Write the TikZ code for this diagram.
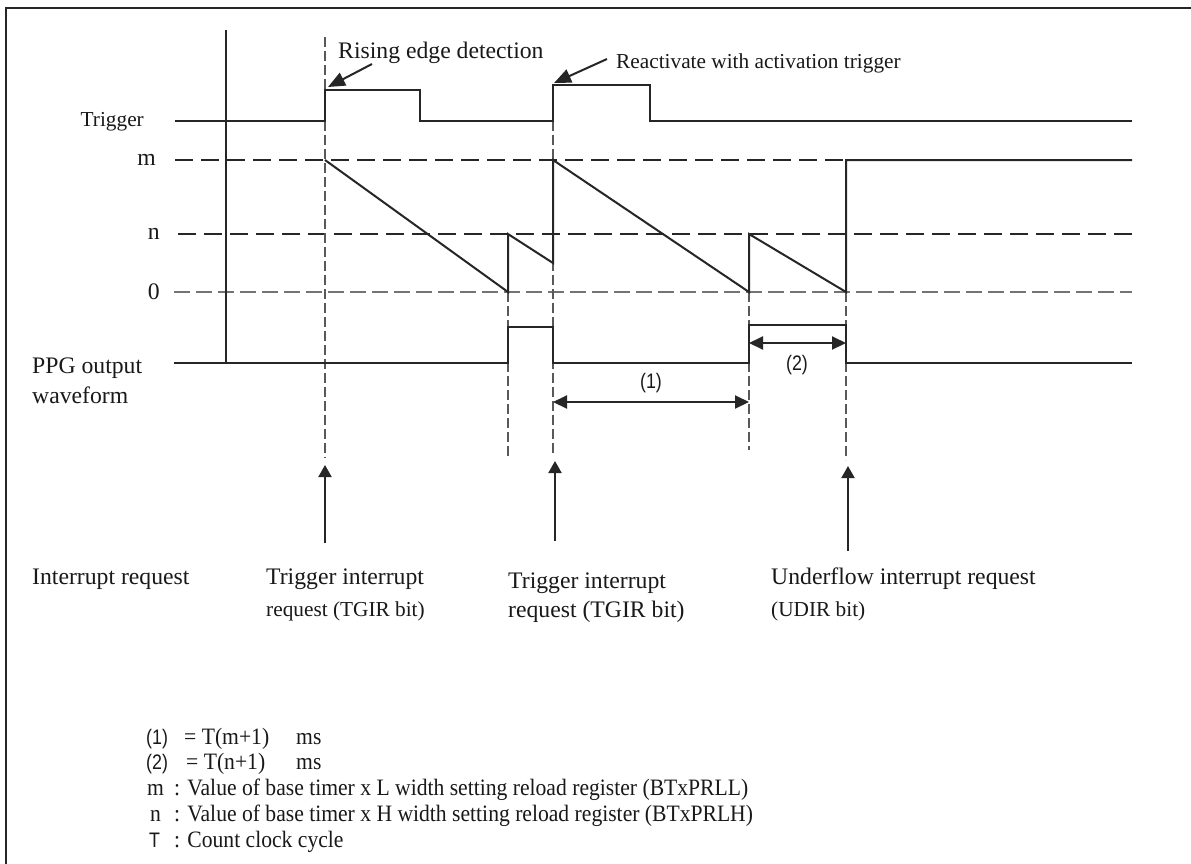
\documentclass[tikz,border=0pt]{standalone}
\usepackage{fontspec}
\setmainfont{Liberation Serif}
\setsansfont{Liberation Sans}
\usetikzlibrary{arrows.meta}
\newcommand{\sqzt}[1]{\scalebox{0.92}[1]{#1}}
\newcommand{\sqzs}[1]{\scalebox{0.85}[1]{#1}}
\begin{document}
\begin{tikzpicture}[x=1pt,y=-1pt,
  sig/.style={line width=2pt, color=black!85, line join=miter},
  thindash/.style={line width=1.1pt, color=black!65, dash pattern=on 10pt off 4pt},
  levdash/.style={line width=2.6pt, color=black!85, dash pattern=on 18pt off 8pt},
  zerodash/.style={line width=1.4pt, color=black!55, dash pattern=on 16pt off 6pt},
  lbl/.style={font=\fontsize{23.7}{28}\selectfont, inner sep=0pt, text=black!90},
  slbl/.style={font=\fontsize{21.3}{25}\selectfont, inner sep=0pt, text=black!90},
  leg/.style={font=\fontsize{23.5}{28}\selectfont, inner sep=0pt, anchor=base west, text=black!90},
  legs/.style={font=\sffamily\fontsize{21}{25}\selectfont, inner sep=0pt, anchor=base west, text=black!90},
  dlbl/.style={font=\sffamily\fontsize{21}{25}\selectfont, inner sep=0pt, text=black!90},
  dim/.style={line width=2pt, color=black!85, {Triangle[length=14pt,width=13pt]}-{Triangle[length=14pt,width=13pt]}},
  irq/.style={line width=2pt, color=black!85, -{Triangle[length=12pt,width=13pt]}},
  callout/.style={line width=2pt, color=black!85, -{Triangle[length=17pt,width=14pt]}},
]
\useasboundingbox (0,0) rectangle (1191,863);
\fill[white] (0,0) rectangle (1191,863);
% frame
\draw[line width=2.2pt, color=black!85] (6,880) -- (6,8) -- (1200,8);

% level lines
\draw[levdash] (175,160) -- (1132,160);
\draw[levdash] (178,234) -- (1132,234);
\draw[zerodash] (174,292) -- (1132,292);

% thin dashed verticals
\draw[thindash] (325,37) -- (325,458);
\draw[thindash] (508,292) -- (508,458);
\draw[thindash] (553,121) -- (553,456);
\draw[thindash] (749,292) -- (749,450);
\draw[thindash] (846,292) -- (846,460);

% axis
\draw[sig] (226,30) -- (226,363);

% trigger
\draw[sig] (175,121) -- (325,121) -- (325,90) -- (420,90) -- (420,121) -- (553,121) -- (553,85) -- (650,85) -- (650,121) -- (1132,121);

% counter
\draw[sig] (325,160) -- (508,292) -- (508,234) -- (553,263) -- (553,160) -- (749,292) -- (749,234) -- (846,292) -- (846,160) -- (1132,160);

% PPG output
\draw[sig] (174,363) -- (508,363) -- (508,327) -- (553,327) -- (553,363) -- (749,363) -- (749,325) -- (846,325) -- (846,363) -- (1132,363);

% labels left
\node[slbl, anchor=east] (trg) at (144,122) {Trigger};
\node[lbl, anchor=east] (lm) at (156,160) {m};
\node[lbl, anchor=east] (ln) at (160,234) {n};
\node[lbl, anchor=east] (l0) at (160,292) {0};
\node[lbl, anchor=base west] (ppg1) at (32,373) {PPG output};
\node[lbl, anchor=base west] (ppg2) at (32,403) {waveform};

% callouts
\node[lbl, anchor=base west] (rise) at (338,58) {Rising edge detection};
\coordinate (rA) at (372,64);
\coordinate (rB) at (328,87);
\draw[callout] (rA) -- (rB);
\node[slbl, anchor=base west] (react) at (616,68) {Reactivate with activation trigger};
\coordinate (aA) at (607,59);
\coordinate (aB) at (554,83);
\draw[callout] (aA) -- (aB);

% dimensions
\coordinate (d1a) at (553,402);
\coordinate (d1b) at (749,402);
\draw[dim] (d1a) -- (d1b);
\node[dlbl] (d1) at (651,383) {\sqzs{(1)}};
\coordinate (d2a) at (749,343);
\coordinate (d2b) at (846,343);
\draw[dim] (d2a) -- (d2b);
\node[dlbl] (d2) at (797,365) {\sqzs{(2)}};

% interrupt arrows
\coordinate (i1a) at (325,543);
\coordinate (i1b) at (325,465);
\draw[irq] (i1a) -- (i1b);
\coordinate (i2a) at (555,541);
\coordinate (i2b) at (555,461);
\draw[irq] (i2a) -- (i2b);
\coordinate (i3a) at (848,551);
\coordinate (i3b) at (848,466);
\draw[irq] (i3a) -- (i3b);

% interrupt labels
\node[lbl, anchor=base west] (ir) at (32,584) {Interrupt request};
\node[lbl, anchor=base west] (t1a) at (266,584) {Trigger interrupt};
\node[slbl, anchor=base west] (t1b) at (266,616) {request (TGIR bit)};
\node[lbl, anchor=base west] (t2a) at (508,588) {Trigger interrupt};
\node[lbl, anchor=base west] (t2b) at (508,617) {request (TGIR bit)};
\node[lbl, anchor=base west] (u1) at (771,584) {Underflow interrupt request};
\node[slbl, anchor=base west] (u2) at (771,616) {(UDIR bit)};

% legend
\node[legs] (g1) at (146,744) {\sqzs{(1)}};
\node[leg] (g1b) at (184,744) {\sqzt{= T(m+1)}};
\node[leg] (g1c) at (296,744) {\sqzt{ms}};
\node[legs] (g2) at (146,769) {\sqzs{(2)}};
\node[leg] (g2b) at (186,769) {\sqzt{= T(n+1)}};
\node[leg] (g2c) at (296,769) {\sqzt{ms}};
\node[leg] (g3) at (147,795) {\sqzt{m}};
\node[leg] (g3b) at (174,795) {\sqzt{: Value of base timer x L width setting reload register (BTxPRLL)}};
\node[leg] (g4) at (150,821) {\sqzt{n}};
\node[leg] (g4b) at (174,821) {\sqzt{: Value of base timer x H width setting reload register (BTxPRLH)}};
\node[legs] (g5) at (149,847) {\sqzs{T}};
\node[leg] (g5b) at (174,847) {\sqzt{: Count clock cycle}};
\end{tikzpicture}
\end{document}
